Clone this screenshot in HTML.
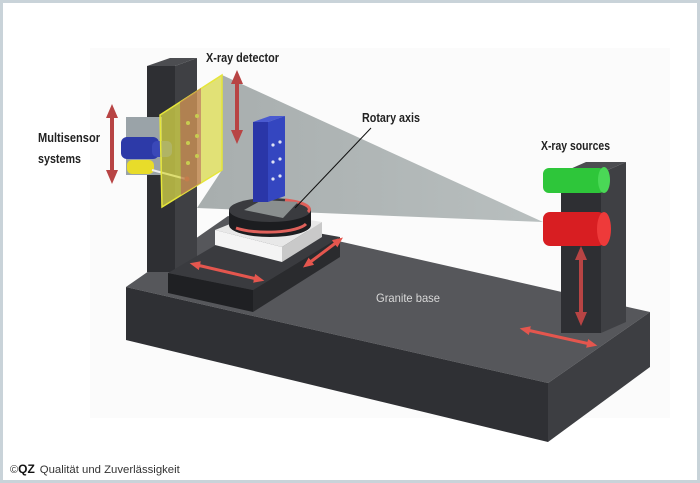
<!DOCTYPE html>
<html><head><meta charset="utf-8"><style>
html,body{margin:0;padding:0;background:#fff;}
.wrap{width:700px;height:483px;position:relative;overflow:hidden;}
svg{position:absolute;left:0;top:0}
text{font-family:"Liberation Sans",sans-serif;}
</style></head><body><div class="wrap">
<svg width="700" height="483" viewBox="0 0 700 483">
<defs>
<linearGradient id="cone" x1="0" y1="0" x2="1" y2="0">
<stop offset="0" stop-color="#8c9494" stop-opacity="0.75"/>
<stop offset="1" stop-color="#a8b0b0" stop-opacity="0.8"/>
</linearGradient>
<marker id="ah" markerWidth="3.5" markerHeight="3" refX="1" refY="1.5" orient="auto-start-reverse"><path d="M0,0 L3.5,1.5 L0,3z" fill="#b84444"/></marker>
<marker id="ah2" markerWidth="3.5" markerHeight="3" refX="1" refY="1.5" orient="auto-start-reverse"><path d="M0,0 L3.5,1.5 L0,3z" fill="#e4564e"/></marker>
</defs>
<rect x="1.5" y="1.5" width="697" height="480" fill="#fff" stroke="#c9d3d9" stroke-width="3"/>
<rect x="90" y="48" width="580" height="370" fill="#fbfbfb"/>
<!-- base -->
<polygon points="126,287 548,383 650,312 228,216" fill="#56575b"/>
<polygon points="126,287 548,383 548,442 126,340" fill="#2f3034"/>
<polygon points="548,383 650,312 650,367 548,442" fill="#3d3e42"/>
<!-- left pillar -->
<polygon points="147,66 175,66 175,272 147,272" fill="#2e2f33"/>
<polygon points="175,66 197,58 197,262 175,272" fill="#3f4044"/>
<polygon points="147,66 170,58 197,58 175,66" fill="#4c4d51"/>
<!-- right pillar -->
<polygon points="561,173 601,173 601,333 561,333" fill="#2e2f33"/>
<polygon points="601,173 626,162 626,322 601,333" fill="#3f4044"/>
<polygon points="561,173 586,162 626,162 601,173" fill="#4c4d51"/>
<!-- stage block -->
<polygon points="168,273 253,290 340,237 255,222" fill="#3a3b3f"/>
<polygon points="168,273 253,290 253,312 168,293" fill="#1f2023"/>
<polygon points="253,290 340,237 340,257 253,312" fill="#2a2b2e"/>
<!-- white plinth -->
<polygon points="215,230 282,247 322,222 260,212" fill="#e8e8e8"/>
<polygon points="215,230 282,247 282,262 215,245" fill="#f4f4f4"/>
<polygon points="282,247 322,222 322,237 282,262" fill="#c9c9c9"/>
<!-- cone -->
<polygon points="222,75 543,222 197,208 222,170" fill="url(#cone)"/>
<!-- rotary disk -->
<path d="M229,210 L229,225 A41,12 0 0 0 311,225 L311,210z" fill="#1c1d20"/>
<ellipse cx="270" cy="210" rx="41" ry="12" fill="#3a3b3f"/>
<path d="M236,228 A40,11 0 0 0 306,224" fill="none" stroke="#e0605a" stroke-width="3"/>
<path d="M285,200 A38,10 0 0 1 308,212" fill="none" stroke="#e0605a" stroke-width="3"/>
<polygon points="244,210 262,200 298,202 283,218" fill="#8a8f8f"/>
<!-- blue sample -->
<polygon points="253,122 268,122 268,202 253,202" fill="#2a36a8"/>
<polygon points="268,122 285,116 285,196 268,202" fill="#3446c0"/>
<polygon points="253,122 270,116 285,116 268,122" fill="#4a5ad0"/>
<g fill="#dfe3f4"><circle cx="273" cy="145" r="1.6"/><circle cx="280" cy="142" r="1.6"/><circle cx="273" cy="162" r="1.6"/><circle cx="280" cy="159" r="1.6"/><circle cx="273" cy="179" r="1.6"/><circle cx="280" cy="176" r="1.6"/></g>
<!-- multisensor -->
<rect x="126" y="117" width="36" height="58" fill="#9aa3a8"/>
<rect x="121" y="137" width="38" height="22" rx="6" fill="#2d3aa8"/>
<rect x="152" y="141" width="20" height="16" rx="5" fill="#3a48b8"/>
<rect x="127" y="160" width="27" height="14" rx="5" fill="#e8dc2a"/>
<line x1="152" y1="170" x2="186" y2="179" stroke="#eee" stroke-width="2"/>
<circle cx="187" cy="179" r="2.5" fill="#e02020"/>
<!-- detector plate -->
<polygon points="160,115 222,75 222,170 162,207" fill="#d8d84a" fill-opacity="0.75" stroke="#e6e63a" stroke-width="1.5"/>
<polygon points="180,102 201,88 201,183 181,195" fill="#b0505a" fill-opacity="0.5"/>
<g fill="#c8cc50"><circle cx="188" cy="123" r="2"/><circle cx="197" cy="116" r="2"/><circle cx="188" cy="143" r="2"/><circle cx="197" cy="136" r="2"/><circle cx="188" cy="163" r="2"/><circle cx="197" cy="156" r="2"/></g>
<!-- sources -->
<rect x="543" y="168" width="62" height="25" rx="6" fill="#2ec63a"/>
<ellipse cx="604" cy="180" rx="6" ry="13" fill="#4ad856"/>
<rect x="543" y="212" width="62" height="34" rx="7" fill="#d81e22"/>
<ellipse cx="604" cy="229" rx="7" ry="17" fill="#ee3a3a"/>
<!-- arrows -->
<g stroke="#b84444" stroke-width="4" marker-start="url(#ah)" marker-end="url(#ah)">
<line x1="112" y1="114" x2="112" y2="174"/>
<line x1="237" y1="80" x2="237" y2="134"/>
<line x1="581" y1="256" x2="581" y2="316"/>
</g>
<g stroke="#e4564e" stroke-width="3" marker-start="url(#ah2)" marker-end="url(#ah2)">
<line x1="197" y1="265" x2="257" y2="279"/>
<line x1="309" y1="263" x2="337" y2="242"/>
<line x1="527" y1="330" x2="590" y2="344"/>
</g>
<!-- leader -->
<line x1="371" y1="128" x2="295" y2="208" stroke="#111" stroke-width="1"/>
<!-- labels -->
<g font-size="12.5" font-weight="bold" fill="#222">
<text x="206" y="62" textLength="73" lengthAdjust="spacingAndGlyphs">X-ray detector</text>
<text x="38" y="142" textLength="62" lengthAdjust="spacingAndGlyphs">Multisensor</text>
<text x="38" y="163" textLength="43" lengthAdjust="spacingAndGlyphs">systems</text>
<text x="362" y="122" textLength="58" lengthAdjust="spacingAndGlyphs">Rotary axis</text>
<text x="541" y="150" textLength="69" lengthAdjust="spacingAndGlyphs">X-ray sources</text>
</g>
<text x="376" y="302" font-size="12" fill="#d8d8d8" textLength="64" lengthAdjust="spacingAndGlyphs">Granite base</text>
<text x="10" y="473" font-size="11" fill="#333">©<tspan font-weight="bold" font-size="12" fill="#111">QZ</tspan><tspan dx="5" textLength="140" lengthAdjust="spacingAndGlyphs">Qualität und Zuverlässigkeit</tspan></text>
</svg>
</div></body></html>
